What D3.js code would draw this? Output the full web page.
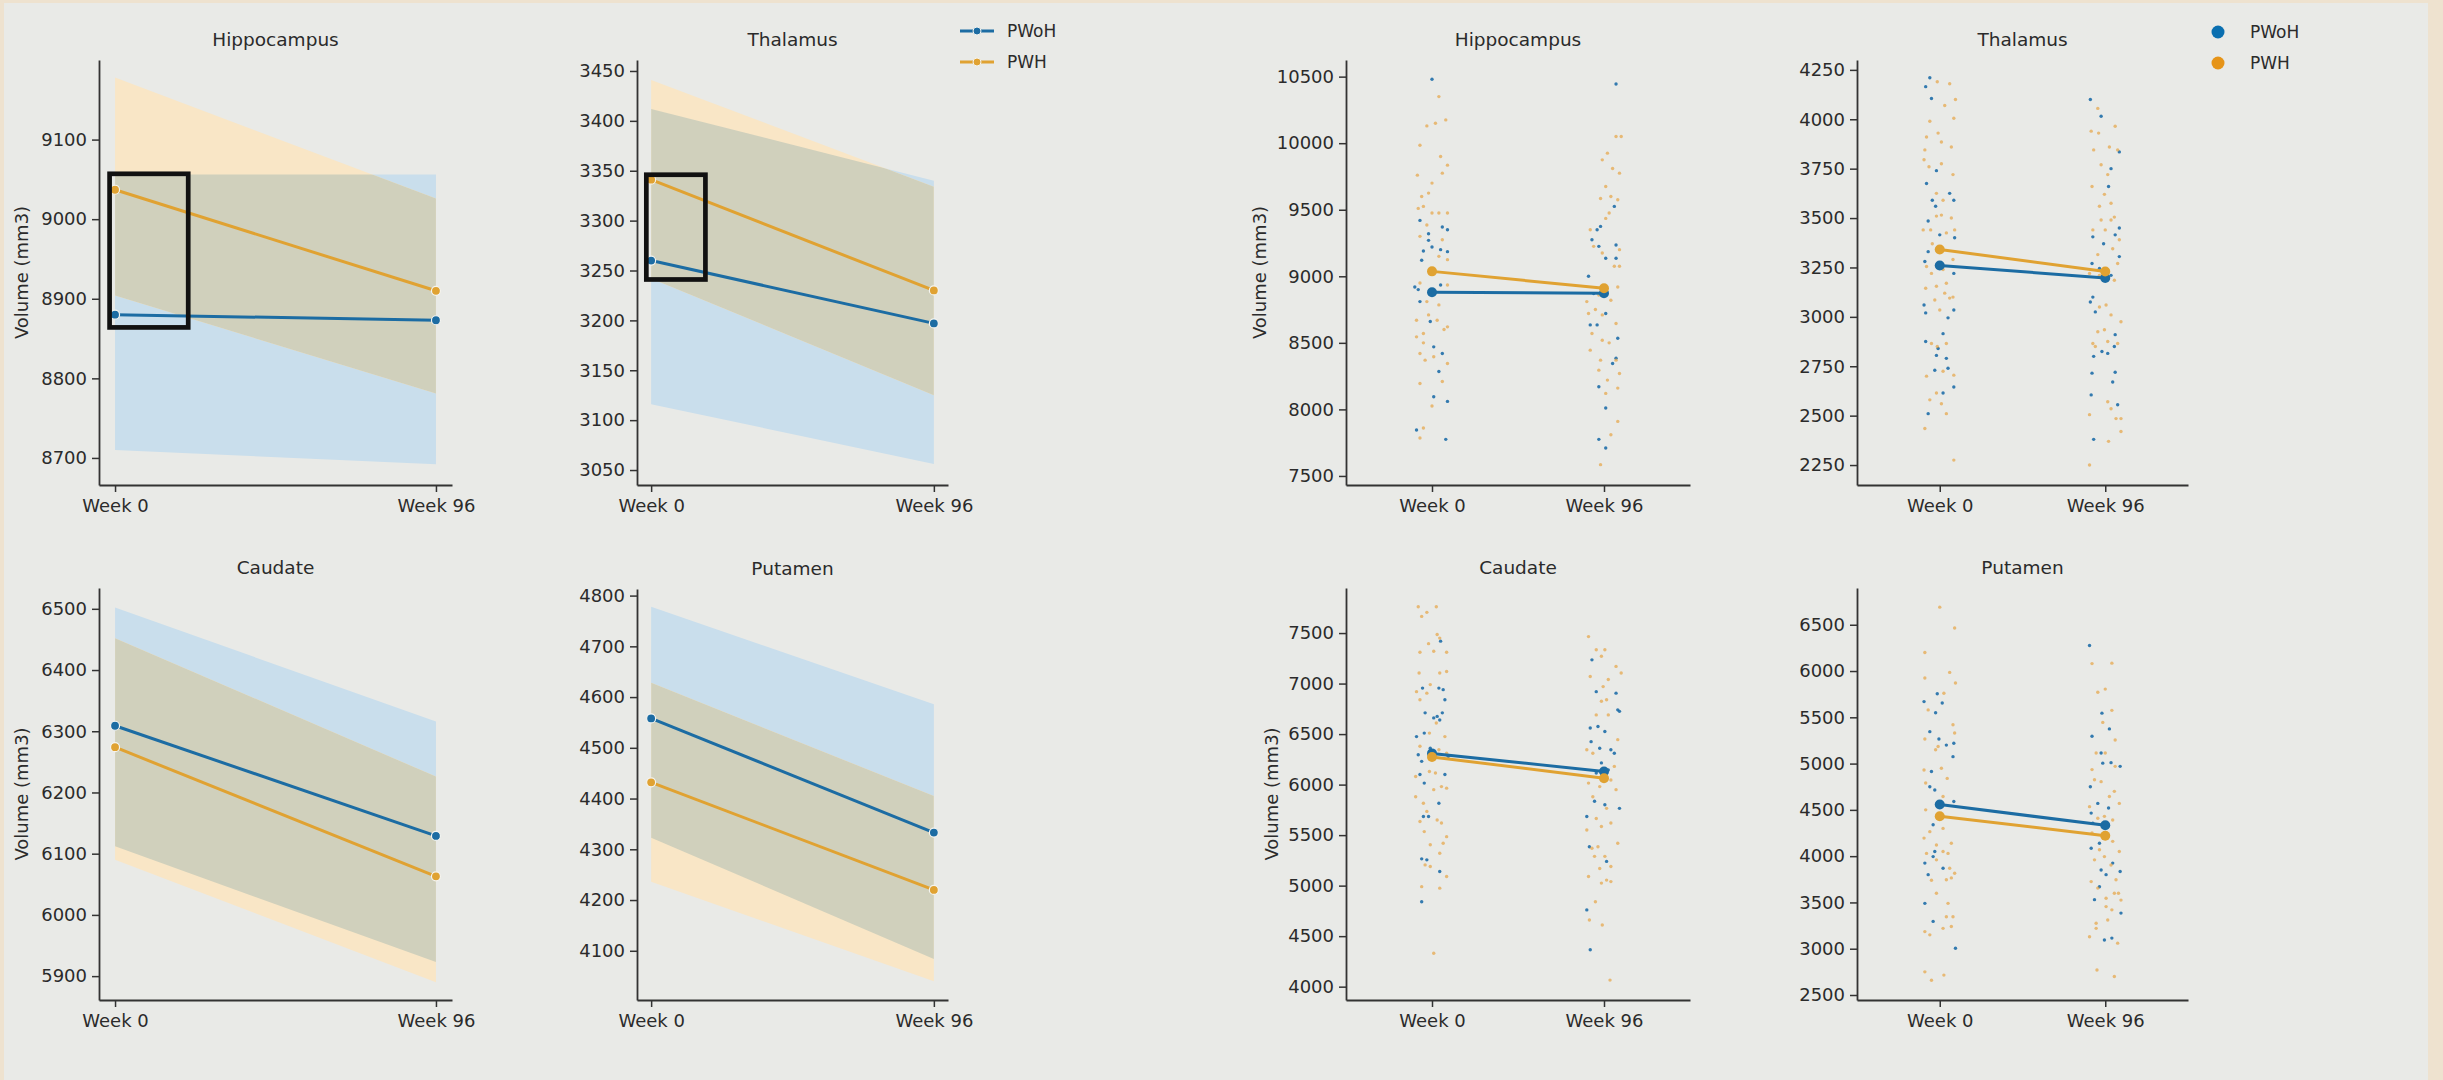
<!DOCTYPE html>
<html>
<head>
<meta charset="utf-8">
<script src="https://cdn.jsdelivr.net/npm/d3@7"></script>
<style>
  body { margin: 0; background: #eee2cf; }
  svg { display: block; font-family: "DejaVu Sans", sans-serif; }
</style>
</head>
<body>
<div id="chart"></div>
<script>
// Categories
var regions = ["Hippocampus", "Thalamus", "Caudate", "Putamen"];
var weeks = ["Week 0", "Week 96"];
var groups = ["PWoH", "PWH"];

// Group means per region [week 0, week 96]
var meanPWoH = [[8880, 8873], [3260, 3197], [6309, 6129], [4558, 4333]];
var meanPWH = [[9037, 8910], [3341, 3230], [6274, 6063], [4432, 4220]];

// Confidence bands per region [week 0, week 96]
var ciLowPWoH = [[8710, 8692], [3116, 3056], [6112, 5923], [4323, 4084]];
var ciHighPWoH = [[9056, 9056], [3412, 3340], [6502, 6316], [4778, 4586]];
var ciLowPWH = [[8904, 8781], [3242, 3125], [6090, 5890], [4236, 4040]];
var ciHighPWH = [[9178, 9026], [3441, 3334], [6452, 6226], [4628, 4405]];

// Axis ranges and ticks
var lineDomains = [[8666, 9200], [3035, 3461], [5861, 6534], [4003, 4813]];
var lineTicks = [[8700, 8800, 8900, 9000, 9100], [3050, 3100, 3150, 3200, 3250, 3300, 3350, 3400, 3450],
    [5900, 6000, 6100, 6200, 6300, 6400, 6500], [4100, 4200, 4300, 4400, 4500, 4600, 4700, 4800]];
var stripDomains = [[7432, 10625], [2149, 4300], [3868, 7946], [2446, 6897]];
var stripTicks = [[7500, 8000, 8500, 9000, 9500, 10000, 10500], [2250, 2500, 2750, 3000, 3250, 3500, 3750, 4000, 4250],
    [4000, 4500, 5000, 5500, 6000, 6500, 7000, 7500], [2500, 3000, 3500, 4000, 4500, 5000, 5500, 6000, 6500]];

// Highlight boxes on the first two panels [x from, x to] in week index, [y from, y to]
var boxPanels = [0, 1];
var boxX = [[-0.017, 0.228], [-0.017, 0.192]];
var boxY = [[8864, 9057], [3241, 3346]];

// Individual points: [jitter, volume]
var hipPWoH0 = [[0.00,10480],[-0.07,9420],[-0.02,9270],[-0.05,9190],[0.00,9220],[0.06,9370],[0.09,9350],[0.05,9200],[0.09,9185],[-0.08,8900],[-0.07,8810],[-0.01,8885],[0.05,8935],[-0.01,8660],[0.01,8470],[0.06,8420],[0.04,8285],[0.01,8095],[0.09,8060],[-0.09,7845],[0.08,7775],[-0.10,8920],[-0.06,9120],[-0.02,9320]];
var hipPWH0 = [[0.04,10350],[-0.03,10130],[0.02,10150],[0.08,10175],[-0.07,9985],[0.05,9900],[0.09,9835],[-0.085,9760],[0.06,9775],[0.00,9700],[-0.06,9600],[-0.02,9625],[0.00,9475],[-0.05,9525],[-0.08,9510],[0.09,9475],[-0.03,9385],[0.04,9475],[-0.07,9300],[0.06,9275],[0.04,9150],[0.09,9125],[-0.07,8950],[0.01,9050],[-0.09,8670],[-0.02,8710],[0.03,8670],[-0.09,8545],[-0.05,8500],[0.07,8600],[-0.07,8420],[-0.04,8370],[0.01,8395],[0.09,8345],[-0.07,8195],[0.06,8210],[0.00,8025],[-0.05,7860],[-0.07,7785],[0.09,8935],[-0.03,8810],[0.04,8785],[0.09,8620],[-0.05,8570]];
var hipPWoH96 = [[0.07,10445],[0.06,9525],[-0.04,9350],[-0.07,9275],[-0.02,9375],[-0.03,9225],[0.01,9135],[0.07,9135],[0.07,9235],[-0.09,9000],[-0.06,8870],[0.00,8900],[-0.08,8635],[-0.04,8635],[0.01,8720],[-0.03,8170],[0.01,8010],[0.08,8535],[0.05,8345],[0.07,8385],[-0.03,7775],[0.01,7710],[-0.01,8920]];
var hipPWH96 = [[0.07,10050],[0.10,10050],[0.02,9925],[-0.01,9875],[0.05,9810],[0.09,9775],[0.01,9675],[0.04,9600],[-0.02,9585],[0.03,9475],[0.01,9435],[0.08,9575],[-0.08,9350],[-0.06,9225],[-0.01,9175],[0.09,9200],[0.06,9075],[0.09,9075],[0.08,8920],[-0.03,8860],[-0.10,8810],[0.04,8820],[-0.05,8750],[-0.01,8710],[0.07,8645],[-0.07,8570],[-0.01,8520],[0.03,8500],[-0.08,8445],[-0.02,8370],[0.07,8370],[-0.03,8295],[0.02,8220],[0.09,8270],[0.08,8160],[0.01,8120],[0.08,7910],[0.04,7810],[-0.02,7585],[-0.09,8720]];

var thaPWoH0 = [[-0.06,4210],[-0.085,4165],[-0.05,4105],[-0.02,3740],[-0.08,3675],[-0.045,3590],[-0.025,3560],[0.06,3625],[0.085,3590],[-0.07,3485],[0.00,3415],[0.09,3400],[-0.07,3330],[-0.09,3280],[0.085,3220],[-0.095,3060],[-0.085,3020],[0.05,2995],[0.085,3035],[0.02,2915],[-0.085,2875],[-0.01,2840],[-0.02,2805],[0.04,2790],[-0.03,2730],[0.05,2740],[0.02,2615],[0.085,2645],[-0.07,2510]];
var thaPWH0 = [[-0.015,4190],[0.06,4180],[0.095,4100],[0.03,4070],[-0.06,3990],[0.085,4005],[-0.08,3910],[-0.01,3930],[-0.09,3845],[0.01,3885],[0.07,3860],[-0.095,3795],[-0.065,3760],[0.01,3775],[0.08,3720],[-0.02,3625],[0.02,3590],[0.07,3500],[-0.10,3440],[-0.055,3440],[-0.02,3510],[0.01,3515],[0.04,3425],[0.09,3440],[-0.045,3370],[-0.08,3255],[-0.05,3220],[0.02,3240],[-0.02,3155],[0.04,3170],[-0.03,3085],[0.03,3120],[0.06,3095],[0.00,3035],[0.08,3100],[-0.085,3145],[-0.015,2850],[-0.05,2865],[0.04,2865],[-0.08,2700],[0.02,2725],[-0.02,2615],[-0.06,2580],[0.04,2510],[0.01,2560],[0.085,2705],[-0.09,2435],[0.085,2275],[0.08,3290]];
var thaPWoH96 = [[-0.09,4100],[-0.025,4015],[0.02,3660],[0.035,3750],[0.085,3835],[-0.075,3405],[-0.01,3370],[0.06,3415],[0.085,3450],[-0.08,3270],[-0.035,3245],[0.035,3210],[0.085,3305],[-0.075,3100],[-0.09,3075],[-0.06,3025],[-0.07,2800],[-0.02,2825],[0.015,2815],[0.055,2850],[0.06,2910],[-0.08,2715],[0.045,2670],[0.06,2720],[-0.085,2605],[0.075,2555],[-0.07,2380],[0.005,3210]];
var thaPWH96 = [[-0.045,4055],[-0.085,3940],[-0.04,3930],[0.06,3965],[-0.07,3845],[0.025,3860],[0.075,3845],[-0.025,3770],[0.015,3720],[-0.08,3660],[-0.005,3620],[-0.035,3560],[0.035,3575],[-0.025,3490],[0.035,3490],[-0.075,3440],[0.00,3440],[0.055,3505],[0.085,3390],[-0.045,3315],[0.045,3345],[-0.095,3220],[-0.035,3210],[0.075,3270],[0.055,3185],[0.095,2975],[-0.035,3050],[0.005,3060],[0.035,3010],[-0.075,2865],[-0.045,2925],[-0.005,2935],[0.075,2865],[-0.06,2850],[0.015,2875],[-0.095,2505],[0.015,2570],[0.035,2535],[0.065,2485],[0.095,2485],[0.095,2420],[0.02,2370],[-0.095,2250]];

var cauPWoH0 = [[0.05,7420],[-0.055,6955],[0.04,6955],[0.065,6940],[0.075,6840],[-0.04,6710],[0.01,6660],[0.045,6640],[0.03,6675],[0.06,6710],[-0.09,6475],[-0.045,6510],[-0.01,6360],[-0.08,6295],[-0.06,6230],[0.095,6280],[-0.07,6100],[-0.045,6015],[0.075,6100],[0.04,5815],[-0.05,5685],[-0.02,5685],[-0.06,5265],[-0.03,5255],[0.045,5140],[-0.06,4840]];
var cauPWH0 = [[-0.08,7760],[0.025,7760],[-0.03,7705],[-0.06,7665],[-0.07,7310],[0.01,7320],[-0.02,7395],[0.03,7485],[0.045,7450],[0.085,7310],[-0.075,7105],[0.045,7105],[0.085,7120],[-0.09,6920],[-0.01,6990],[-0.07,6840],[-0.03,6905],[-0.015,6510],[0.025,6610],[0.075,6475],[-0.07,6380],[0.04,6345],[0.085,6310],[-0.015,6130],[0.02,6115],[-0.095,6080],[0.055,5980],[0.085,5965],[-0.095,5880],[-0.05,5815],[0.01,5950],[-0.03,5735],[-0.07,5635],[0.03,5650],[0.055,5620],[-0.045,5535],[0.085,5485],[-0.01,5405],[0.065,5420],[0.045,5320],[-0.04,5205],[0.085,5090],[-0.06,4990],[0.045,4975],[0.01,4330],[-0.01,5190]];
var cauPWoH96 = [[-0.07,7235],[-0.045,6920],[0.07,6905],[-0.08,6560],[-0.035,6575],[0.005,6525],[-0.075,6425],[-0.025,6360],[0.04,6345],[0.06,6310],[-0.015,6215],[-0.045,6115],[0.025,6145],[0.08,6740],[0.09,6725],[-0.055,5835],[0.005,5800],[-0.10,5685],[0.09,5765],[-0.085,5385],[0.015,5240],[-0.10,4760],[-0.08,4365]];
var cauPWH96 = [[-0.09,7465],[-0.045,7335],[0.005,7335],[-0.015,7270],[0.025,7040],[0.07,7170],[0.10,7105],[-0.08,7070],[-0.005,6970],[0.015,6840],[-0.015,6825],[0.025,6690],[-0.045,6690],[0.08,6445],[-0.10,6345],[-0.065,6310],[0.06,6180],[-0.09,6015],[0.04,6045],[-0.025,5980],[0.07,5950],[-0.065,5880],[0.015,5765],[-0.045,5665],[-0.10,5550],[-0.015,5585],[0.04,5620],[-0.07,5370],[-0.035,5385],[0.08,5420],[-0.055,5290],[0.005,5290],[0.04,5190],[-0.025,5170],[-0.09,5090],[0.015,5055],[-0.015,5025],[0.04,5040],[-0.05,4840],[-0.085,4660],[-0.01,4610],[0.035,4065]];

var putPWoH0 = [[-0.015,5755],[0.015,5655],[-0.095,5670],[-0.025,5550],[-0.06,5345],[-0.005,5265],[0.04,5200],[0.085,5220],[0.08,5075],[-0.05,4915],[-0.06,4750],[-0.03,4715],[0.00,4555],[0.085,4590],[-0.04,4340],[-0.09,3925],[-0.04,3995],[-0.07,3800],[0.02,3870],[-0.09,3490],[-0.04,3295],[0.095,3005],[-0.03,4050]];
var putPWH0 = [[0.00,6690],[0.09,6465],[-0.09,6200],[-0.09,5925],[0.06,5985],[0.095,5870],[0.025,5760],[-0.07,5580],[-0.09,5265],[0.08,5420],[0.09,5330],[-0.025,5150],[-0.01,5185],[-0.095,4930],[0.01,4950],[0.045,4840],[-0.085,4790],[0.02,4645],[-0.085,4500],[0.02,4300],[-0.095,4195],[-0.06,4265],[-0.02,4120],[0.07,4140],[-0.08,4030],[0.02,4050],[0.05,4030],[-0.02,3960],[0.06,3870],[0.09,3815],[-0.05,3740],[0.04,3745],[0.07,3765],[-0.02,3600],[0.05,3490],[0.04,3345],[0.08,3345],[0.02,3220],[0.07,3240],[-0.09,3185],[-0.06,3150],[-0.09,2750],[-0.05,2660],[0.025,2715]];
var putPWoH96 = [[-0.095,6275],[-0.08,5295],[-0.02,5545],[0.025,5375],[-0.025,5115],[-0.015,5005],[0.035,5010],[0.09,4970],[-0.09,4750],[-0.045,4570],[0.02,4520],[-0.085,4465],[-0.075,4355],[-0.035,4140],[-0.085,4085],[-0.025,3850],[0.005,3800],[0.045,3925],[0.09,3835],[-0.065,3530],[-0.035,3670],[0.095,3385],[-0.005,3095],[0.04,3115]];
var putPWH96 = [[-0.08,6080],[0.04,6085],[0.00,5805],[-0.045,5770],[0.04,5575],[-0.015,5445],[0.06,5255],[-0.055,5115],[0.00,5115],[-0.08,4935],[0.06,4970],[-0.065,4825],[-0.025,4805],[0.055,4700],[0.085,4570],[-0.095,4535],[0.025,4645],[-0.045,4410],[-0.005,4430],[0.045,4390],[-0.08,4250],[0.045,4160],[-0.035,4070],[0.085,4050],[-0.065,3960],[-0.005,3995],[0.035,3905],[0.065,3745],[-0.085,3725],[-0.045,3655],[0.055,3600],[0.08,3600],[0.005,3545],[0.095,3525],[0.005,3455],[0.04,3420],[-0.055,3275],[-0.055,3220],[0.015,3310],[0.075,3060],[-0.095,3130],[-0.05,2770],[0.055,2700]];

// Points grouped [region][group][week]
var stripPoints = [
    [[hipPWoH0, hipPWoH96], [hipPWH0, hipPWH96]],
    [[thaPWoH0, thaPWoH96], [thaPWH0, thaPWH96]],
    [[cauPWoH0, cauPWoH96], [cauPWH0, cauPWH96]],
    [[putPWoH0, putPWoH96], [putPWH0, putPWH96]]
];

// Colours
var lineColor = ["#1c6ca3", "#e0a232"];
var dotColor = ["#1f6ea8", "#e5a444"];
var bandBlue = "#c9deec";
var bandOrange = "#f9e6c6";
var bandBoth = "#d0d0bc";
var inkColor = "#2b2b2b";

// Panel frames (axis extents in px)
var lineBoxes = [
    {x0: 99, x1: 452, y0: 60, y1: 485},
    {x0: 637, x1: 948, y0: 60, y1: 485},
    {x0: 99, x1: 452, y0: 588, y1: 1000},
    {x0: 637, x1: 948, y0: 589, y1: 1000}
];
var stripBoxes = [
    {x0: 1346, x1: 1690, y0: 60, y1: 485, lab: 1259},
    {x0: 1857, x1: 2188, y0: 60, y1: 485},
    {x0: 1346, x1: 1690, y0: 588, y1: 1000, lab: 1271},
    {x0: 1857, x1: 2188, y0: 588, y1: 1000}
];

var svg = d3.select("#chart")
    .append("svg")
    .attr("width", 2443)
    .attr("height", 1080);

svg.append("rect").attr("width", 2443).attr("height", 1080).attr("fill", "#eee2cf");
svg.append("rect").attr("x", 4).attr("y", 3).attr("width", 2424).attr("height", 1077).attr("fill", "#e9eae7");

function styleAxis(g) {
    g.select(".domain").attr("stroke", "#333").attr("stroke-width", 1.8);
    g.selectAll(".tick line").attr("stroke", "#333").attr("stroke-width", 1.5);
    g.selectAll(".tick text")
        .attr("fill", inkColor)
        .style("font-size", "18px")
        .style("font-family", "DejaVu Sans, sans-serif");
}

function drawAxes(b, x, y, ticks, xTicks) {
    var yAxis = d3.axisLeft(y)
        .tickValues(ticks)
        .tickFormat(d3.format("d"))
        .tickSize(7)
        .tickSizeOuter(0)
        .tickPadding(5);
    var xAxis = d3.axisBottom(x)
        .tickValues(xTicks)
        .tickFormat(d => weeks[d])
        .tickSize(7)
        .tickSizeOuter(0)
        .tickPadding(7);

    svg.append("g")
        .attr("transform", `translate(${b.x0}, 0)`)
        .call(yAxis)
        .call(styleAxis);

    svg.append("g")
        .attr("transform", `translate(0, ${b.y1})`)
        .call(xAxis)
        .call(styleAxis);
}

function drawTitle(b, i) {
    svg.append("text")
        .attr("x", (b.x0 + b.x1) / 2)
        .attr("y", b.y0 - 14)
        .attr("text-anchor", "middle")
        .attr("fill", inkColor)
        .style("font-size", "18.5px")
        .text(regions[i]);
}

function drawYLabel(xc, b) {
    var yc = (b.y0 + b.y1) / 2;
    svg.append("text")
        .attr("transform", `translate(${xc}, ${yc}) rotate(-90)`)
        .attr("text-anchor", "middle")
        .attr("dominant-baseline", "central")
        .attr("fill", inkColor)
        .style("font-size", "18px")
        .text("Volume (mm3)");
}

// Left half: mean lines with confidence bands
lineBoxes.forEach(function(b, i) {
    var x = d3.scaleLinear().domain([-0.05, 1.05]).range([b.x0, b.x1]);
    var y = d3.scaleLinear().domain(lineDomains[i]).range([b.y1, b.y0]);

    var area = d3.area()
        .x((d, j) => x(j))
        .y0(d => y(d[0]))
        .y1(d => y(d[1]));

    var blue = [0, 1].map(j => [ciLowPWoH[i][j], ciHighPWoH[i][j]]);
    var orange = [0, 1].map(j => [ciLowPWH[i][j], ciHighPWH[i][j]]);

    svg.append("clipPath")
        .attr("id", "clipBlue" + i)
        .append("path")
        .attr("d", area(blue));

    svg.append("path").attr("d", area(blue)).attr("fill", bandBlue);
    svg.append("path").attr("d", area(orange)).attr("fill", bandOrange);
    svg.append("path").attr("d", area(orange)).attr("fill", bandBoth)
        .attr("clip-path", `url(#clipBlue${i})`);

    var line = d3.line().x((d, j) => x(j)).y(d => y(d));
    [meanPWoH[i], meanPWH[i]].forEach(function(vals, k) {
        svg.append("path")
            .attr("d", line(vals))
            .attr("fill", "none")
            .attr("stroke", lineColor[k])
            .attr("stroke-width", 3);
        svg.selectAll(null)
            .data(vals)
            .enter()
            .append("circle")
            .attr("cx", (d, j) => x(j))
            .attr("cy", d => y(d))
            .attr("r", 4.5)
            .attr("fill", lineColor[k])
            .attr("stroke", "#f4f4f0")
            .attr("stroke-width", 1.2);
    });

    drawAxes(b, x, y, lineTicks[i], [0, 1]);
    drawTitle(b, i);
    if (i % 2 === 0) drawYLabel(21, b);

    var bi = boxPanels.indexOf(i);
    if (bi >= 0) {
        svg.append("rect")
            .attr("x", x(boxX[bi][0]))
            .attr("y", y(boxY[bi][1]))
            .attr("width", x(boxX[bi][1]) - x(boxX[bi][0]))
            .attr("height", y(boxY[bi][0]) - y(boxY[bi][1]))
            .attr("fill", "none")
            .attr("stroke", "#111")
            .attr("stroke-width", 4.7);
    }
});

// Right half: individual points with mean lines
stripBoxes.forEach(function(b, i) {
    var x = d3.scaleLinear().domain([-0.5, 1.5]).range([b.x0, b.x1]);
    var y = d3.scaleLinear().domain(stripDomains[i]).range([b.y1, b.y0]);

    [0, 1].forEach(function(k) {
        [0, 1].forEach(function(w) {
            svg.selectAll(null)
                .data(stripPoints[i][k][w])
                .enter()
                .append("circle")
                .attr("cx", d => x(w + d[0]))
                .attr("cy", d => y(d[1]))
                .attr("r", 1.7)
                .attr("fill", dotColor[k])
                .attr("opacity", k === 0 ? 0.9 : 0.7);
        });
    });

    var line = d3.line().x((d, j) => x(j)).y(d => y(d));
    [meanPWoH[i], meanPWH[i]].forEach(function(vals, k) {
        svg.append("path")
            .attr("d", line(vals))
            .attr("fill", "none")
            .attr("stroke", lineColor[k])
            .attr("stroke-width", 3);
        svg.selectAll(null)
            .data(vals)
            .enter()
            .append("circle")
            .attr("cx", (d, j) => x(j))
            .attr("cy", d => y(d))
            .attr("r", 5)
            .attr("fill", lineColor[k]);
    });

    drawAxes(b, x, y, stripTicks[i], [0, 1]);
    drawTitle(b, i);
    if (b.lab) drawYLabel(b.lab, b);
});

// Legend for the line panels
groups.forEach(function(name, k) {
    var ly = 31 + k * 31;
    svg.append("line")
        .attr("x1", 960).attr("x2", 994)
        .attr("y1", ly).attr("y2", ly)
        .attr("stroke", lineColor[k])
        .attr("stroke-width", 3);
    svg.append("circle")
        .attr("cx", 977).attr("cy", ly).attr("r", 4)
        .attr("fill", lineColor[k])
        .attr("stroke", "#f4f4f0").attr("stroke-width", 1);
    svg.append("text")
        .attr("x", 1007).attr("y", ly)
        .attr("dominant-baseline", "central")
        .attr("fill", inkColor)
        .style("font-size", "17px")
        .text(name);
});

// Legend for the point panels
groups.forEach(function(name, k) {
    var ly = 32 + k * 31;
    svg.append("circle")
        .attr("cx", 2218).attr("cy", ly).attr("r", 6.5)
        .attr("fill", k === 0 ? "#0a6fb0" : "#e69418");
    svg.append("text")
        .attr("x", 2250).attr("y", ly)
        .attr("dominant-baseline", "central")
        .attr("fill", inkColor)
        .style("font-size", "17px")
        .text(name);
});
</script>
</body>
</html>
